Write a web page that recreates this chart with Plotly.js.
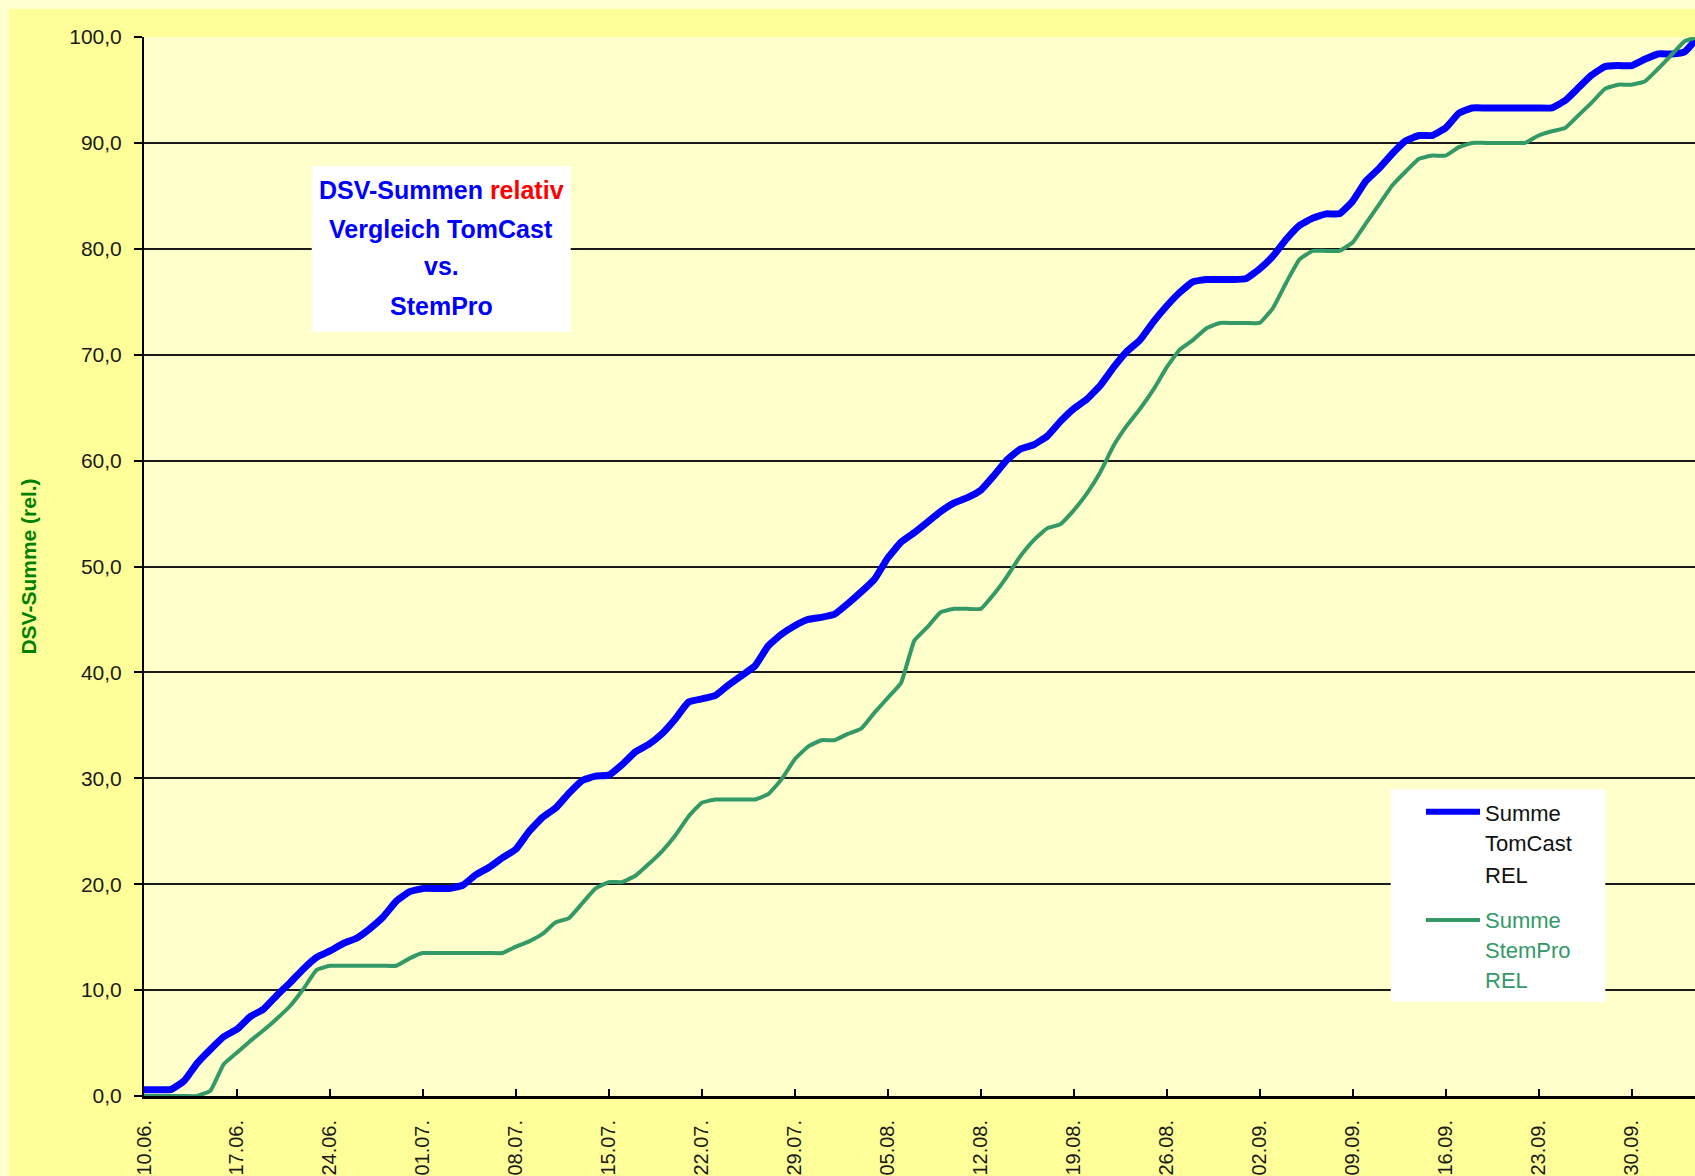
<!DOCTYPE html>
<html>
<head>
<meta charset="utf-8">
<script src="https://cdn.plot.ly/plotly-3.0.1.min.js"></script>
<style>
  html, body { margin: 0; padding: 0; background: #FFFFD2; overflow: hidden; }
  #chart { position: absolute; left: 9px; top: 9px; width: 1686px; height: 1167px; }
</style>
</head>
<body>
<div id="chart"></div>
<script>
// ---- data, one value per day from 10.06. ----
const startDate = '2021-06-10';
const seriesNames = ['Summe TomCast REL', 'Summe StemPro REL'];

const tomcastRel = [
  0.6, 0.6, 0.6, 1.4, 3.1, 4.4, 5.6, 6.3, 7.5, 8.2,
  9.5, 10.7, 12.0, 13.1, 13.7, 14.4, 14.9, 15.8, 16.9, 18.4,
  19.3, 19.6, 19.6, 19.6, 19.9, 20.9, 21.6, 22.5, 23.3, 25.0,
  26.3, 27.2, 28.6, 29.8, 30.2, 30.3, 31.3, 32.5, 33.2, 34.2,
  35.6, 37.2, 37.5, 37.8, 38.8, 39.7, 40.6, 42.5, 43.6, 44.4,
  45.0, 45.2, 45.5, 46.5, 47.6, 48.8, 50.8, 52.3, 53.2, 54.2,
  55.2, 56.0, 56.5, 57.2, 58.6, 60.1, 61.1, 61.5, 62.3, 63.7,
  64.9, 65.8, 67.1, 68.8, 70.3, 71.4, 73.1, 74.6, 75.9, 76.9,
  77.1, 77.1, 77.1, 77.2, 78.1, 79.3, 80.9, 82.2, 82.9, 83.3,
  83.3, 84.5, 86.4, 87.6, 89.0, 90.2, 90.7, 90.7, 91.4, 92.8,
  93.3, 93.3, 93.3, 93.3, 93.3, 93.3, 93.3, 94.0, 95.2, 96.4,
  97.2, 97.3, 97.3, 97.9, 98.4, 98.4, 98.6, 100.0
];

const stemproRel = [
  0.0, 0.0, 0.0, 0.0, 0.0, 0.5, 3.0, 4.1, 5.2, 6.2,
  7.3, 8.5, 10.1, 11.9, 12.3, 12.3, 12.3, 12.3, 12.3, 12.3,
  13.0, 13.5, 13.5, 13.5, 13.5, 13.5, 13.5, 13.5, 14.1, 14.6,
  15.3, 16.4, 16.8, 18.2, 19.6, 20.2, 20.2, 20.8, 21.9, 23.1,
  24.6, 26.4, 27.7, 28.0, 28.0, 28.0, 28.0, 28.5, 29.9, 31.8,
  33.0, 33.6, 33.6, 34.2, 34.7, 36.2, 37.6, 39.0, 43.0, 44.3,
  45.7, 46.0, 46.0, 46.0, 47.4, 49.1, 51.0, 52.5, 53.6, 54.0,
  55.3, 56.9, 58.9, 61.4, 63.3, 64.9, 66.7, 68.8, 70.5, 71.4,
  72.5, 73.0, 73.0, 73.0, 73.0, 74.4, 76.8, 79.0, 79.8, 79.8,
  79.8, 80.6, 82.4, 84.2, 86.0, 87.3, 88.5, 88.8, 88.8, 89.6,
  90.0, 90.0, 90.0, 90.0, 90.0, 90.7, 91.1, 91.4, 92.6, 93.8,
  95.1, 95.5, 95.5, 95.8, 97.0, 98.3, 99.6, 100.0
];

const yTickVals = [0, 10, 20, 30, 40, 50, 60, 70, 80, 90, 100];
const titleLines = ['DSV-Summen ', 'relativ', 'Vergleich TomCast', 'vs.', 'StemPro'];
const legendLines1 = ['Summe', 'TomCast', 'REL'];
const legendLines2 = ['Summe', 'StemPro', 'REL'];
const yAxisTitle = 'DSV-Summe (rel.)';

// ---- category dates (one per value) ----
function dayString(start, offset) {
  const d = new Date(start + 'T00:00:00Z');
  d.setUTCDate(d.getUTCDate() + offset);
  return d.toISOString().slice(0, 10);
}
const dates = tomcastRel.map((_, i) => dayString(startDate, i));

// ---- styling ----
const FONT = "'Liberation Sans', Arial, sans-serif";
const BLUE = '#0000FF';
const GREEN = '#339966';

// plot area in page pixels: x 144..1695, y 37..1096
const PX0 = 144, PX1 = 1695, PY0 = 37, PY1 = 1096;
const px = x => (x - PX0) / (PX1 - PX0);
const py = y => (PY1 - y) / (PY1 - PY0);

const traces = [
  { x: dates, y: tomcastRel, name: seriesNames[0], type: 'scatter', mode: 'lines',
    line: { color: BLUE, width: 7, shape: 'spline', smoothing: 0.35 }, showlegend: false },
  { x: dates, y: stemproRel, name: seriesNames[1], type: 'scatter', mode: 'lines',
    line: { color: GREEN, width: 4, shape: 'spline', smoothing: 0.35 }, showlegend: false }
];

const annotations = [];
const tFont = { family: FONT, size: 25, color: BLUE, weight: 'bold' };
annotations.push({ xref: 'paper', yref: 'paper', x: px(441), y: py(190), xanchor: 'center', yanchor: 'middle',
  showarrow: false, font: tFont,
  text: titleLines[0] + '<span style="color:#FF0000">' + titleLines[1] + '</span>' });
annotations.push({ xref: 'paper', yref: 'paper', x: px(441), y: py(229), xanchor: 'center', yanchor: 'middle',
  showarrow: false, font: tFont, text: titleLines[2] });
annotations.push({ xref: 'paper', yref: 'paper', x: px(441), y: py(266), xanchor: 'center', yanchor: 'middle',
  showarrow: false, font: tFont, text: titleLines[3] });
annotations.push({ xref: 'paper', yref: 'paper', x: px(441), y: py(306), xanchor: 'center', yanchor: 'middle',
  showarrow: false, font: tFont, text: titleLines[4] });

const legY1 = [813, 843, 875];
const legY2 = [920, 950, 980];
legendLines1.forEach((t, i) => annotations.push({ xref: 'paper', yref: 'paper', x: px(1483), y: py(legY1[i]),
  xanchor: 'left', yanchor: 'middle', showarrow: false, text: t,
  font: { family: FONT, size: 22, color: '#111111' } }));
legendLines2.forEach((t, i) => annotations.push({ xref: 'paper', yref: 'paper', x: px(1483), y: py(legY2[i]),
  xanchor: 'left', yanchor: 'middle', showarrow: false, text: t,
  font: { family: FONT, size: 22, color: GREEN } }));

const shapes = [
  { type: 'rect', xref: 'paper', yref: 'paper', x0: px(311.7), x1: px(570.7), y0: py(331.7), y1: py(166),
    fillcolor: '#FFFFFF', line: { width: 0 }, layer: 'above' },
  { type: 'rect', xref: 'paper', yref: 'paper', x0: px(1390.7), x1: px(1605.3), y0: py(1001.7), y1: py(789.3),
    fillcolor: '#FFFFFF', line: { width: 0 }, layer: 'above' },
  { type: 'line', xref: 'paper', yref: 'paper', x0: px(1426), x1: px(1480), y0: py(811.7), y1: py(811.7),
    line: { color: BLUE, width: 6 }, layer: 'above' },
  { type: 'line', xref: 'paper', yref: 'paper', x0: px(1426), x1: px(1480), y0: py(920), y1: py(920),
    line: { color: GREEN, width: 4 }, layer: 'above' }
];

const dayMs = 86400000;
const xEnd = new Date(new Date(startDate + 'T00:00:00Z').getTime() + 116.78 * dayMs).toISOString();

const layout = {
  width: 1686, height: 1167,
  margin: { l: 135, r: 0, t: 28, b: 80, pad: 0 },
  paper_bgcolor: '#FFFF99',
  plot_bgcolor: '#FFFFCC',
  separators: ',.',
  font: { family: FONT, color: '#1a1a1a' },
  showlegend: false,
  xaxis: {
    type: 'date',
    range: [startDate, xEnd],
    tick0: startDate, dtick: 7 * dayMs,
    tickformat: '%d.%m.',
    tickangle: -90,
    ticks: 'inside', ticklen: 7, tickwidth: 2, tickcolor: '#000',
    ticklabelstandoff: 13,
    showline: true, linewidth: 3, linecolor: '#000',
    showgrid: false, zeroline: false,
    tickfont: { family: FONT, size: 20, color: '#1a1a1a' },
    automargin: false, fixedrange: true
  },
  yaxis: {
    range: [0, 100],
    tickvals: yTickVals,
    tickformat: '.1f',
    ticks: 'outside', ticklen: 8, tickwidth: 2, tickcolor: '#000',
    ticklabelstandoff: 8,
    showline: true, linewidth: 2, linecolor: '#000',
    showgrid: true, gridcolor: '#1a1a1a', gridwidth: 2,
    zeroline: false,
    tickfont: { family: FONT, size: 21, color: '#1a1a1a' },
    title: { text: yAxisTitle, standoff: 27,
      font: { family: FONT, size: 21, color: '#008000', weight: 'bold' } },
    automargin: false, fixedrange: true
  },
  annotations: annotations,
  shapes: shapes
};

Plotly.newPlot('chart', traces, layout, { displayModeBar: false, staticPlot: true });
</script>
</body>
</html>
